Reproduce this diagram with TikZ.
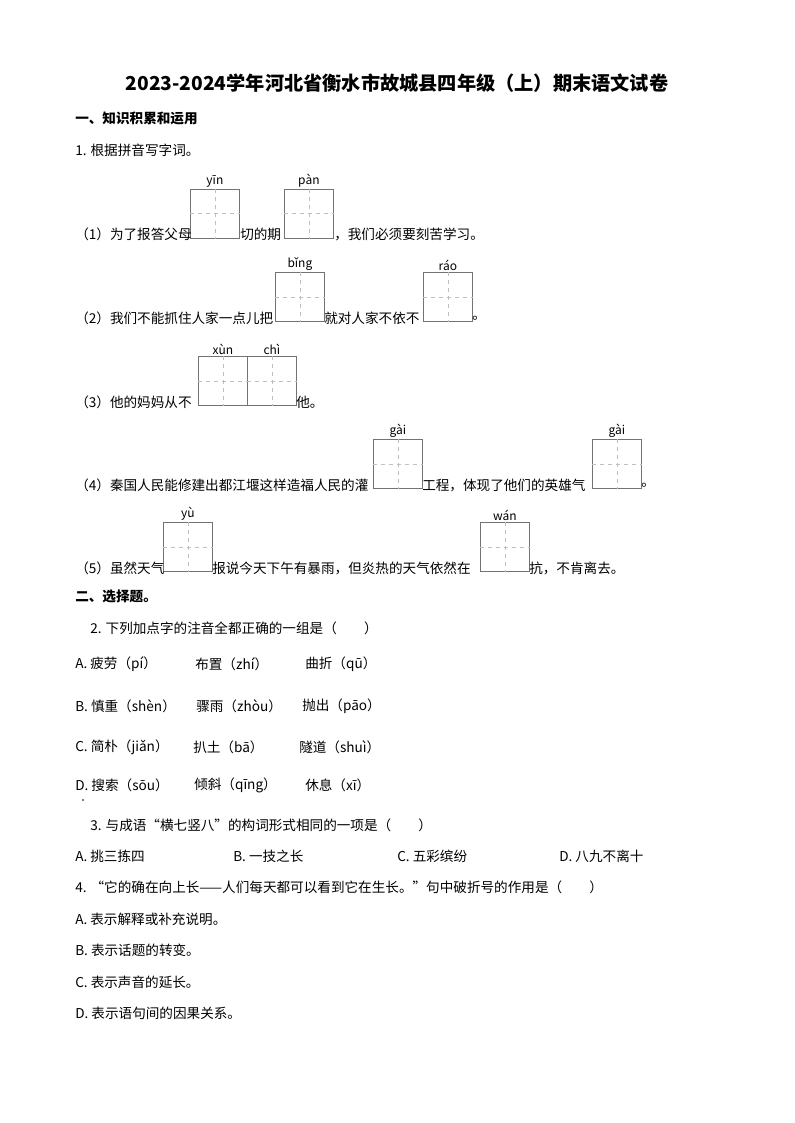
\documentclass[tikz,border=0pt]{standalone}
\usepackage{fontspec}
\setmainfont{Noto Sans CJK SC}
\begin{document}
\begin{tikzpicture}[x=0.75pt,y=-0.75pt,
  t/.style={anchor=west,inner sep=0pt,font=\fontsize{10.2pt}{12pt}\selectfont},
  py/.style={anchor=south,inner sep=1pt,font=\fontsize{9pt}{10pt}\selectfont},
  ttl/.style={inner sep=0pt,font=\fontsize{14.4pt}{16pt}\selectfont\bfseries},
  tzg/.style={draw=black!55,line width=0.6pt,anchor=north west,minimum size=36.75pt,inner sep=0pt},
  grid/.style={draw=black!25,dashed,line width=0.6pt}]
\useasboundingbox (0,0) rectangle (794,1123);
\newcommand{\tzgbox}[4]{\node[tzg] (#1) at (#2,#3) {};
  \draw[grid] (#1.north) -- (#1.south); \draw[grid] (#1.west) -- (#1.east);
  \node[py] at (#1.north) {#4};}
\node[ttl] (title) at (397,83) {2023-2024学年河北省衡水市故城县四年级（上）期末语文试卷};
\node[t,font=\fontsize{10.2pt}{12pt}\selectfont\bfseries] (s1) at (75,118) {一、知识积累和运用};
\node[t] (q1) at (75,150) {1. 根据拼音写字词。};
% row 1
\tzgbox{b1}{190}{189}{yīn}
\tzgbox{b2}{284}{189}{pàn}
\node[t] at (75,234) {（1）为了报答父母};
\node[t] at (240,234) {切的期};
\node[t] at (334,234) {，我们必须要刻苦学习。};
% row 2
\tzgbox{b3}{275}{272}{bǐng}
\tzgbox{b4}{423}{272}{ráo}
\node[t] at (75,318) {（2）我们不能抓住人家一点儿把};
\node[t] at (324,318) {就对人家不依不};
\node[t] at (472,318) {。};
% row 3
\tzgbox{b5}{198}{356}{xùn}
\tzgbox{b6}{247}{356}{chì}
\node[t] at (75,402) {（3）他的妈妈从不};
\node[t] at (296,402) {他。};
% row 4
\tzgbox{b7}{373}{439}{gài}
\tzgbox{b8}{592}{439}{gài}
\node[t] at (75,485) {（4）秦国人民能修建出都江堰这样造福人民的灌};
\node[t] at (422,485) {工程，体现了他们的英雄气};
\node[t] at (641,485) {。};
% row 5
\tzgbox{b9}{163}{522}{yù}
\tzgbox{b10}{480}{522}{wán}
\node[t] at (75,568) {（5）虽然天气};
\node[t] at (212,568) {报说今天下午有暴雨，但炎热的天气依然在};
\node[t] at (529,568) {抗，不肯离去。};
% section 2
\node[t,font=\fontsize{10.2pt}{12pt}\selectfont\bfseries] (s2) at (75,596) {二、选择题。};
\node[t] at (90,628) {2. 下列加点字的注音全都正确的一组是（\hspace{2em}）};
\node[t] at (75,664) {A. 疲劳（pí）};
\node[t] at (195,664) {布置（zhí）};
\node[t] at (305,664) {曲折（qū）};
\node[t] at (75,706) {B. 慎重（shèn）};
\node[t] at (196,706) {骤雨（zhòu）};
\node[t] at (302,706) {抛出（pāo）};
\node[t] at (75,747) {C. 简朴（jiǎn）};
\node[t] at (193,747) {扒土（bā）};
\node[t] at (299,747) {隧道（shuì）};
\node[t] at (75,785) {D. 搜索（sōu）};
\node[t] at (194,785) {倾斜（qīng）};
\node[t] at (305,785) {休息（xī）};
\fill (83,800) circle (0.8);
\node[t] at (90,825) {3. 与成语“横七竖八”的构词形式相同的一项是（\hspace{2em}）};
\node[t] at (75,856) {A. 挑三拣四};
\node[t] at (233,856) {B. 一技之长};
\node[t] at (397,856) {C. 五彩缤纷};
\node[t] at (559,856) {D. 八九不离十};
\node[t] at (75,887) {4. “它的确在向上长——人们每天都可以看到它在生长。”句中破折号的作用是（\hspace{2em}）};
\node[t] at (75,919) {A. 表示解释或补充说明。};
\node[t] at (75,950) {B. 表示话题的转变。};
\node[t] at (75,982) {C. 表示声音的延长。};
\node[t] at (75,1013) {D. 表示语句间的因果关系。};
\end{tikzpicture}
\end{document}
